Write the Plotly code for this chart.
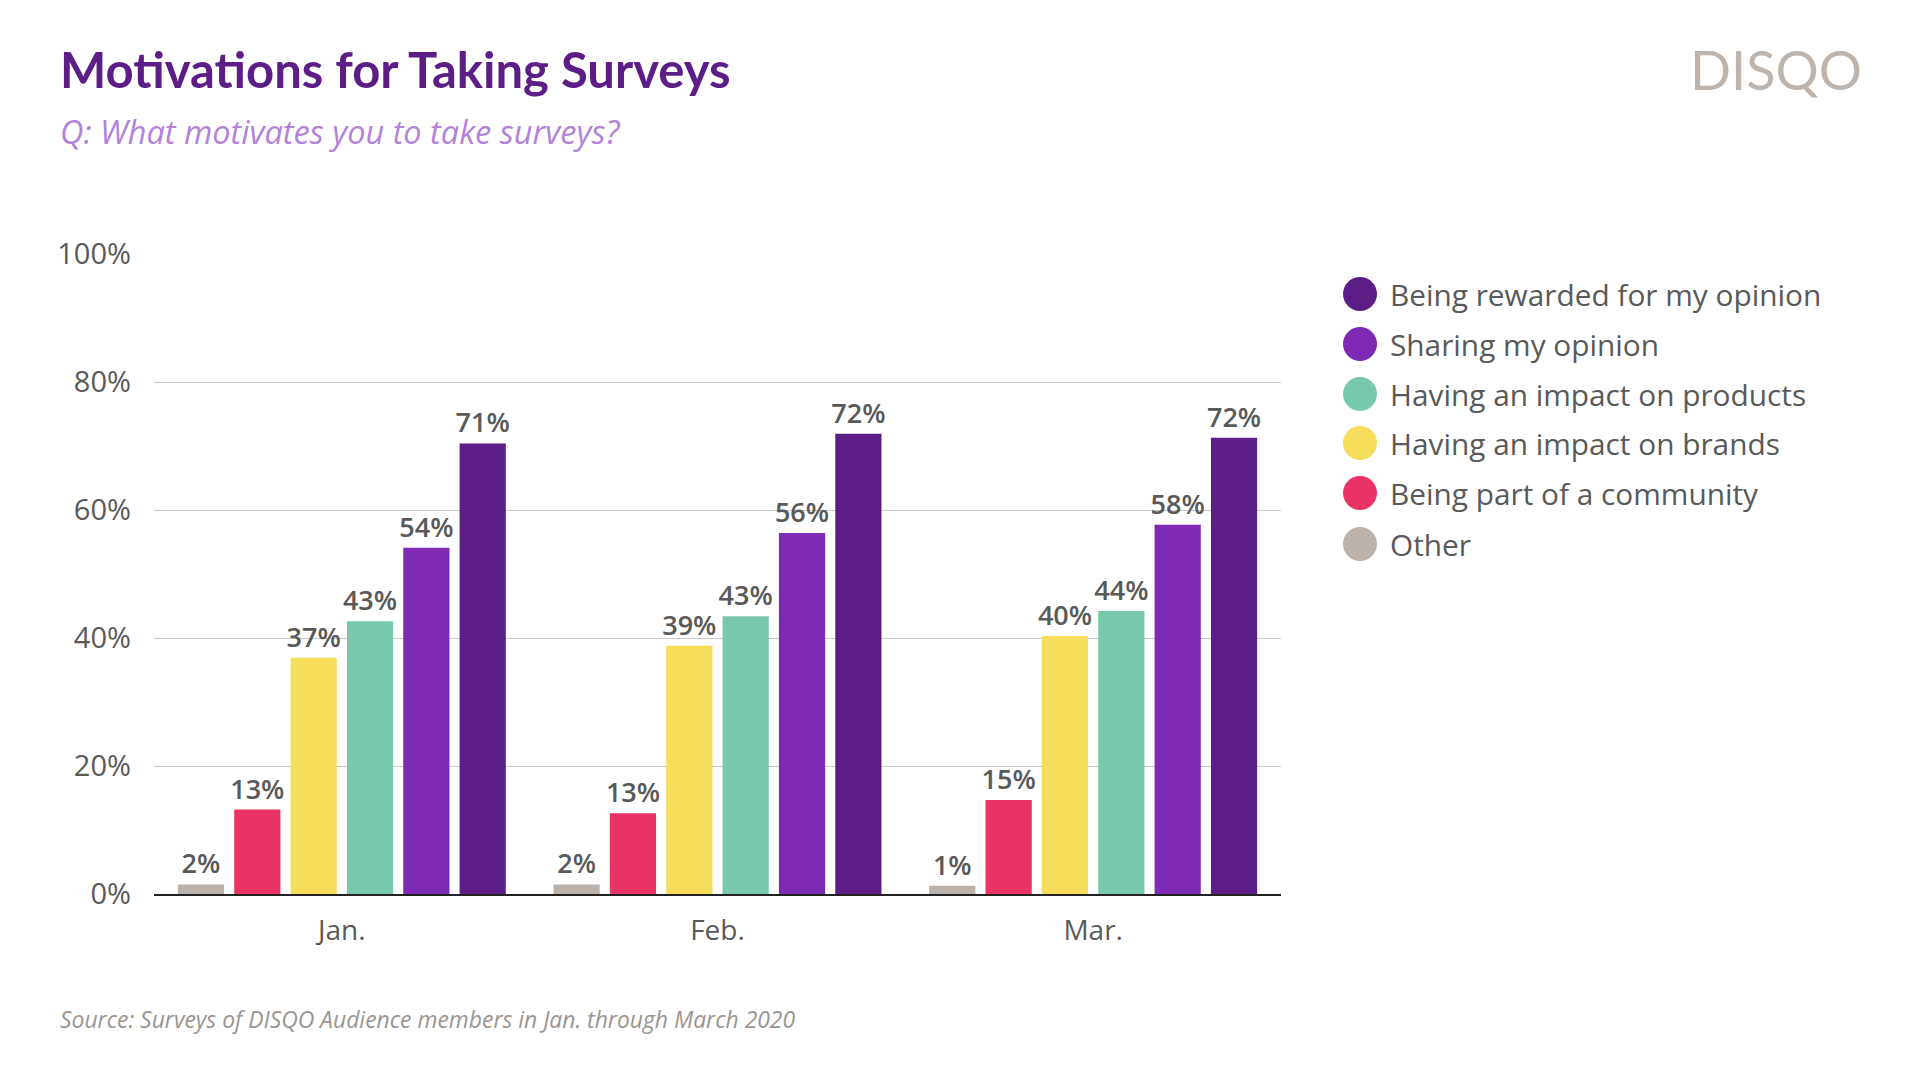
import plotly.graph_objects as go

months = ["Jan.", "Feb.", "Mar."]

# series drawn left to right within each month
series_names = [
    "Other",
    "Being part of a community",
    "Having an impact on brands",
    "Having an impact on products",
    "Sharing my opinion",
    "Being rewarded for my opinion",
]
series_colors = ["#BBB2AB", "#E93367", "#F7DD5C", "#78C9AC", "#7E2AB5", "#5C1D87"]

other_vals = [1.5, 1.5, 1.3]
community_vals = [13.2, 12.6, 14.7]
brands_vals = [36.9, 38.8, 40.3]
products_vals = [42.6, 43.4, 44.2]
sharing_vals = [54.1, 56.4, 57.7]
rewarded_vals = [70.4, 71.9, 71.3]

other_lbl = ["2%", "2%", "1%"]
community_lbl = ["13%", "13%", "15%"]
brands_lbl = ["37%", "39%", "40%"]
products_lbl = ["43%", "43%", "44%"]
sharing_lbl = ["54%", "56%", "58%"]
rewarded_lbl = ["71%", "72%", "72%"]

y_tick_vals = [0, 20, 40, 60, 80, 100]
y_tick_text = ["0%", "20%", "40%", "60%", "80%", "100%"]

all_vals = [other_vals, community_vals, brands_vals, products_vals, sharing_vals, rewarded_vals]
all_lbls = [other_lbl, community_lbl, brands_lbl, products_lbl, sharing_lbl, rewarded_lbl]

W, H = 1920, 1080
ML, MR, MT, MB = 154, 639, 254, 186
PW, PH = W - ML - MR, H - MT - MB
FONT = "Open Sans"

fig = go.Figure()
for name, col, vals, lbls in zip(series_names, series_colors, all_vals, all_lbls):
    fig.add_trace(go.Bar(
        x=months, y=vals, name=name, marker=dict(color=col, line=dict(width=0)),
        text=lbls, texttemplate="%{text}", textposition="outside",
        textfont=dict(family=FONT, size=27, color="#595959", weight=600),
        constraintext="none", cliponaxis=False, showlegend=False,
    ))

def px(p):
    return (p - ML) / PW

def py(p):
    return (H - MB - p) / PH

annotations = [
    dict(text="Motivations for Taking Surveys", x=px(58), y=py(69), xref="paper", yref="paper",
         xanchor="left", yanchor="middle", showarrow=False,
         font=dict(family="Lato", size=49, color="#5C1D87", weight=700)),
    dict(text="<i>Q: What motivates you to take surveys?</i>", x=px(58), y=py(131), xref="paper", yref="paper",
         xanchor="left", yanchor="middle", showarrow=False,
         font=dict(family=FONT, size=32.5, color="#B383DA")),
    dict(text="DISQO", x=px(1864), y=py(69), xref="paper", yref="paper",
         xanchor="right", yanchor="middle", showarrow=False,
         font=dict(family="Lato", size=54, color="#BDB5AD")),
    dict(text="<i>Source: Surveys of DISQO Audience members in Jan. through March 2020</i>",
         x=px(58), y=py(1019), xref="paper", yref="paper",
         xanchor="left", yanchor="middle", showarrow=False,
         font=dict(family=FONT, size=22.9, color="#9A9590")),
]

shapes = []
legend_rows = [294, 344, 394, 443, 493, 544]
legend_order = list(range(len(series_names)))[::-1]
for row_y, idx in zip(legend_rows, legend_order):
    shapes.append(dict(type="circle", xref="paper", yref="paper",
                       xsizemode="pixel", ysizemode="pixel",
                       xanchor=px(1360), yanchor=py(row_y),
                       x0=-17, x1=17, y0=-17, y1=17,
                       fillcolor=series_colors[idx], line=dict(width=0)))
    annotations.append(dict(text=series_names[idx], x=px(1388), y=py(row_y), xref="paper", yref="paper",
                            xanchor="left", yanchor="middle", showarrow=False,
                            font=dict(family=FONT, size=29.8, color="#595959")))

fig.update_layout(
    width=W, height=H,
    paper_bgcolor="white", plot_bgcolor="white",
    margin=dict(l=ML, r=MR, t=MT, b=MB, pad=0),
    barmode="group", bargap=0.1, bargroupgap=0.18,
    showlegend=False,
    annotations=annotations, shapes=shapes,
    xaxis=dict(showgrid=False, showline=True, linecolor="#222222", linewidth=2,
               ticks="", tickfont=dict(family=FONT, size=28, color="#595959"),
               ticklabelstandoff=10),
    yaxis=dict(range=[0, 100], tickvals=y_tick_vals, ticktext=y_tick_text,
               showgrid=True, gridcolor="#C8C8C8", gridwidth=1, zeroline=False,
               showline=False, ticks="",
               tickfont=dict(family=FONT, size=29, color="#595959"),
               ticklabelstandoff=22),
)

fig.write_html("out.html", config={"displayModeBar": False},
               post_script="document.body.style.margin='0';")
